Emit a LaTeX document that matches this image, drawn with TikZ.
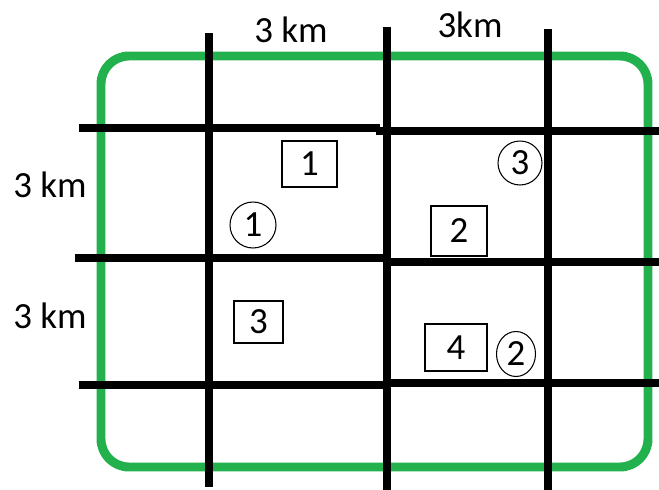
\documentclass[tikz,border=0pt]{standalone}
\usepackage{fontspec}
\setmainfont{Carlito}
\usetikzlibrary{shapes.geometric}
\definecolor{parkgreen}{RGB}{34,177,76}

\begin{document}
\begin{tikzpicture}[x=0.02cm,y=-0.02cm,
    road/.style={line width=5.1pt,black},
    lot/.style={draw,line width=0.7pt,inner sep=0pt,font=\fontsize{21pt}{24pt}\selectfont},
    site/.style={draw,circle,line width=0.6pt,inner sep=0pt,font=\fontsize{21pt}{24pt}\selectfont},
    dist/.style={font=\fontsize{21pt}{24pt}\selectfont,inner sep=0pt}]
        \useasboundingbox (0,0) rectangle (659,490);
        \draw[parkgreen,line width=5.1pt,rounded corners=0.56cm] (101,56) rectangle (648,467);
        \foreach \x/\t/\b in {209/33/487,387/27/490,548/29/490}{
          \draw[road] (\x,\t) -- (\x,\b);
        }
        \foreach \a/\l/\m/\r in {79/128/380/131,75/258/387/262,79/385/387/383}{
          \draw[road] (\a,\l) -- (\m,\l);
          \draw[road] (\m-4,\r) -- (659,\r);
        }
        \node[lot,minimum width=1.1cm,minimum height=0.92cm] (b1) at (309.5,164) {1};
        \node[lot,minimum width=1.12cm,minimum height=1cm] (b2) at (459,231) {2};
        \node[lot,minimum width=0.98cm,minimum height=0.84cm] (b3) at (258.5,322) {3};
        \node[lot,minimum width=1.24cm,minimum height=0.94cm] (b4) at (456,347.5) {4};
        \node[site,minimum size=0.92cm] (c1) at (253,225) {1};
        \node[site,ellipse,minimum width=0.78cm,minimum height=0.9cm] (c2) at (516,354) {2};
        \node[site,minimum size=0.88cm] (c3) at (520,163) {3};
        \node[dist] (top1) at (291,30) {3 km};
        \node[dist] (top2) at (470,25) {3km};
        \node[dist] (left1) at (50,185) {3 km};
        \node[dist] (left2) at (50,316) {3 km};
      \end{tikzpicture}
\end{document}
